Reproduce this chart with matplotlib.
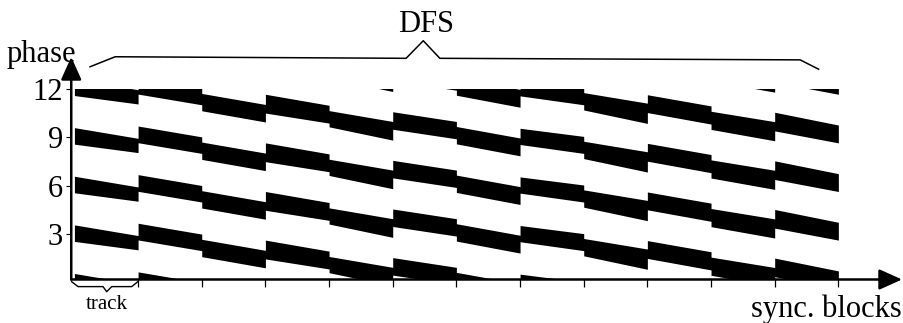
import numpy as np
import matplotlib
matplotlib.use("Agg")
import matplotlib.pyplot as plt
from matplotlib.patches import Rectangle
from matplotlib.transforms import blended_transform_factory

plt.rcParams['font.family'] = ['Liberation Serif', 'DejaVu Serif']

# Data
# =============================================================================

## track index of each break point (doubled where the phase jumps or steps)
track_pos = [0, 1, 1, 2, 2, 3, 3, 4, 4, 5, 5, 6,
             6, 7, 7, 8, 8, 9, 9, 10, 10, 11, 11, 12]

## upper edge of one band in phase units (not wrapped)
band_top = [12.59, 11.93, 12.69, 12.02, 11.70, 11.02, 11.65, 10.97,
            10.64, 9.97, 10.57, 9.97, 9.66, 8.95, 9.55, 9.05,
            8.75, 8.10, 8.62, 7.93, 7.60, 6.96, 7.54, 6.75]

## thickness of the band in phase units
band_width = [1.02, 0.88, 1.03, 1.02, 1.07, 1.08, 1.16, 1.10,
              1.00, 1.15, 1.08, 1.07, 1.07, 1.10, 1.00, 1.05,
              1.07, 1.25, 1.10, 1.12, 1.12, 1.18, 1.15, 1.10]

## the phase wraps, so the band shows up again every 3 units
band_period = 3
band_copies = [-4, -3, -2, -1, 0, 1, 2]
phase_max = 12

phase_ticks = [3, 6, 9, 12]
phase_labels = ['3', '6', '9', '12']
track_ticks = [1, 2, 3, 4, 5, 6, 7, 8, 9, 10, 11, 12]


# Figure
# =============================================================================

fig = plt.figure(figsize=(9.04, 3.23), dpi=100)
ax = fig.add_axes([0.0788, 0.1347, 0.919, 0.6889])
ax.set_xlim(-0.05, 13.0)
ax.set_ylim(0.22, 13.95)

top = np.array(band_top)
bottom = top - np.array(band_width)

## keep the bands between the x axis and phase 12
y_low = ax.get_ylim()[0]
clip = Rectangle((-0.05, y_low), 13.05, phase_max - y_low,
                 transform=ax.transData)
for k in band_copies:
    shift = k * band_period
    band = ax.fill_between(track_pos, top + shift, bottom + shift,
                           color='black', linewidth=0)
    band.set_clip_path(clip)

for side in ['top', 'right', 'left', 'bottom']:
    ax.spines[side].set_visible(False)

## axes with arrow heads
arrow = dict(arrowstyle='-|>,head_length=1.0,head_width=0.45', color='black',
             lw=1.8, shrinkA=0, shrinkB=0, mutation_scale=14)
ax.annotate('', xy=(0, 1), xytext=(0, 0), xycoords='axes fraction',
            textcoords='axes fraction', arrowprops=arrow)
ax.annotate('', xy=(1, 0), xytext=(0, 0), xycoords='axes fraction',
            textcoords='axes fraction', arrowprops=arrow)

ax.set_yticks(phase_ticks)
ax.set_yticklabels(phase_labels)
ax.set_xticks(track_ticks)
ax.set_xticklabels([])
ax.tick_params(axis='y', direction='out', length=3.6, width=0.8, pad=2.5,
               labelsize=22)
ax.tick_params(axis='x', direction='out', length=5.8, width=0.9)

## braces
tr = blended_transform_factory(ax.transData, ax.transAxes)
ax.plot([0.245, 0.64, 5.21, 5.48, 5.74, 11.40, 11.69],
        [0.956, 1.001, 0.994, 1.073, 0.994, 0.987, 0.945],
        transform=tr, clip_on=False, color='black', lw=1.1)
ax.plot([-0.043, 0.057, 0.449, 0.507, 0.586, 0.90, 0.995],
        [-0.010, -0.032, -0.032, -0.055, -0.032, -0.032, -0.010],
        transform=tr, clip_on=False, color='black', lw=1.0)

## labels
fig.text(0.0077, 0.809, 'phase', fontsize=22, ha='left', va='baseline')
fig.text(0.471, 0.900, 'DFS', fontsize=22, ha='center', va='baseline')
fig.text(0.1178, 0.0424, 'track', fontsize=15, ha='center', va='baseline')
fig.text(0.998, 0.0201, 'sync. blocks', fontsize=22, ha='right', va='baseline')

fig.savefig('out.png', dpi=100)
